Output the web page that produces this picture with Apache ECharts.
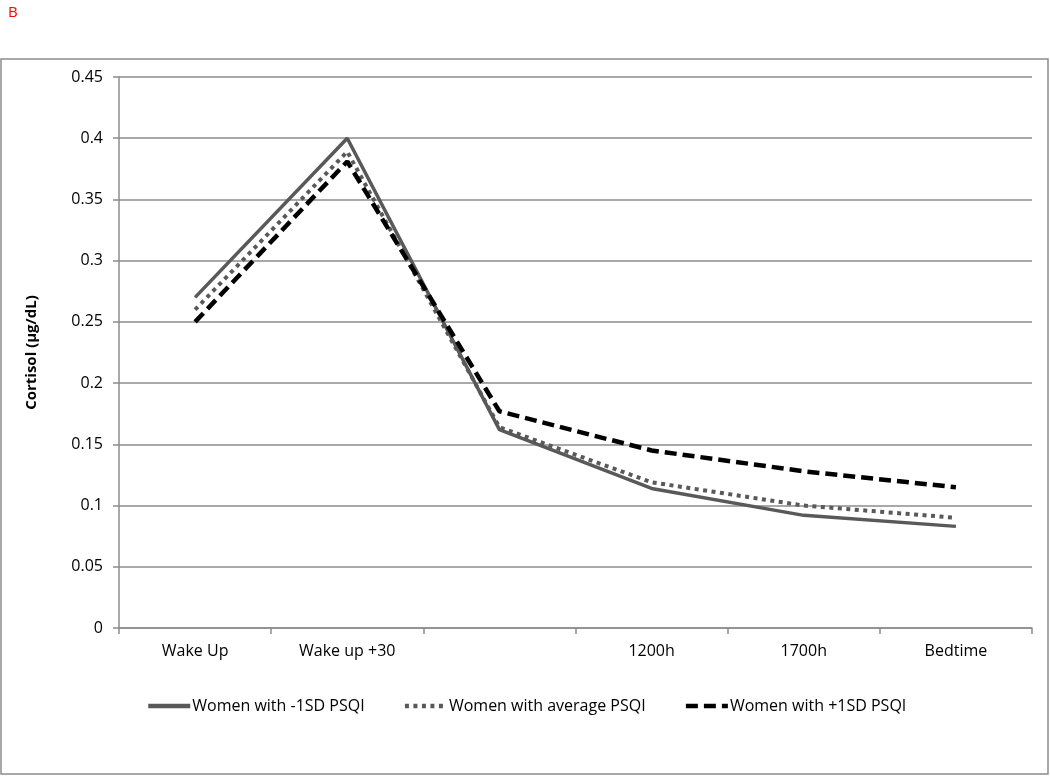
<!DOCTYPE html>
<html>
<head>
<meta charset="utf-8">
<script src="https://cdn.jsdelivr.net/npm/echarts@6/dist/echarts.min.js"></script>
<style>html,body{margin:0;padding:0;background:#fff}#c{width:1050px;height:776px}</style>
</head>
<body>
<div id="c"></div>
<script>
const categories = ['Wake Up', 'Wake up +30', '', '1200h', '1700h', 'Bedtime'];
const seriesNames = ['Women with -1SD PSQI', 'Women with average PSQI', 'Women with +1SD PSQI'];
const lowPSQI = [0.270, 0.400, 0.162, 0.114, 0.092, 0.083];
const avgPSQI = [0.260, 0.389, 0.164, 0.119, 0.100, 0.090];
const highPSQI = [0.250, 0.381, 0.177, 0.145, 0.128, 0.115];
const yTicks = { min: 0, max: 0.45, interval: 0.05 };

const styles = [
  { color: '#595959', width: 3.5, type: 'solid' },
  { color: '#595959', width: 4, type: [4, 4.5] },
  { color: '#000000', width: 4.5, type: [12, 6] }
];

const font = '"Open Sans", "Liberation Sans", sans-serif';
const chart = echarts.init(document.getElementById('c'), null, { renderer: 'canvas' });
chart.setOption({
  backgroundColor: '#fff',
  animation: false,
  textStyle: { fontFamily: font },
  graphic: [
    { type: 'rect', shape: { x: 1, y: 59, width: 1047, height: 715 }, style: { fill: 'none', stroke: '#8c8c8c', lineWidth: 1.5 }, z: -1 },
    { type: 'text', left: 8, top: 5, style: { text: 'B', fill: '#ff0000', font: '15px ' + font } }
  ],
  grid: { left: 119, right: 18, top: 77, bottom: 148, containLabel: false },
  legend: {
    data: seriesNames.map((n, i) => ({ name: n, lineStyle: { width: 4.5, color: styles[i].color, type: styles[i].type } })),
    left: 141, top: 693,
    itemWidth: 42, itemHeight: 14, itemGap: 38,
    itemStyle: { opacity: 0 },
    textStyle: { fontSize: 16, color: '#000', fontFamily: font, padding: [0, 0, 0, -3] }
  },
  xAxis: {
    type: 'category', data: categories, boundaryGap: true,
    axisLine: { lineStyle: { color: '#8c8c8c', width: 1.5 } },
    axisTick: { show: true, length: 6, lineStyle: { color: '#8c8c8c', width: 1.5 }, interval: 0 },
    axisLabel: { color: '#000', fontSize: 16, margin: 15, interval: 0 }
  },
  yAxis: {
    type: 'value', min: yTicks.min, max: yTicks.max, interval: yTicks.interval,
    name: 'Cortisol (µg/dL)', nameLocation: 'middle', nameGap: 80,
    nameTextStyle: { fontWeight: 'bold', fontSize: 15, color: '#000' },
    axisLine: { show: true, lineStyle: { color: '#8c8c8c', width: 1.5 } },
    axisTick: { show: true, length: 6, lineStyle: { color: '#8c8c8c', width: 1.5 } },
    axisLabel: { color: '#000', fontSize: 16, margin: 16, formatter: v => String(+v.toFixed(2)) },
    splitLine: { lineStyle: { color: '#8c8c8c', width: 1.5 } }
  },
  series: [
    { name: seriesNames[0], type: 'line', data: lowPSQI, symbol: 'none', lineStyle: styles[0], itemStyle: { color: styles[0].color } },
    { name: seriesNames[1], type: 'line', data: avgPSQI, symbol: 'none', lineStyle: styles[1], itemStyle: { color: styles[1].color } },
    { name: seriesNames[2], type: 'line', data: highPSQI, symbol: 'none', lineStyle: styles[2], itemStyle: { color: styles[2].color } }
  ]
});
</script>
</body>
</html>
